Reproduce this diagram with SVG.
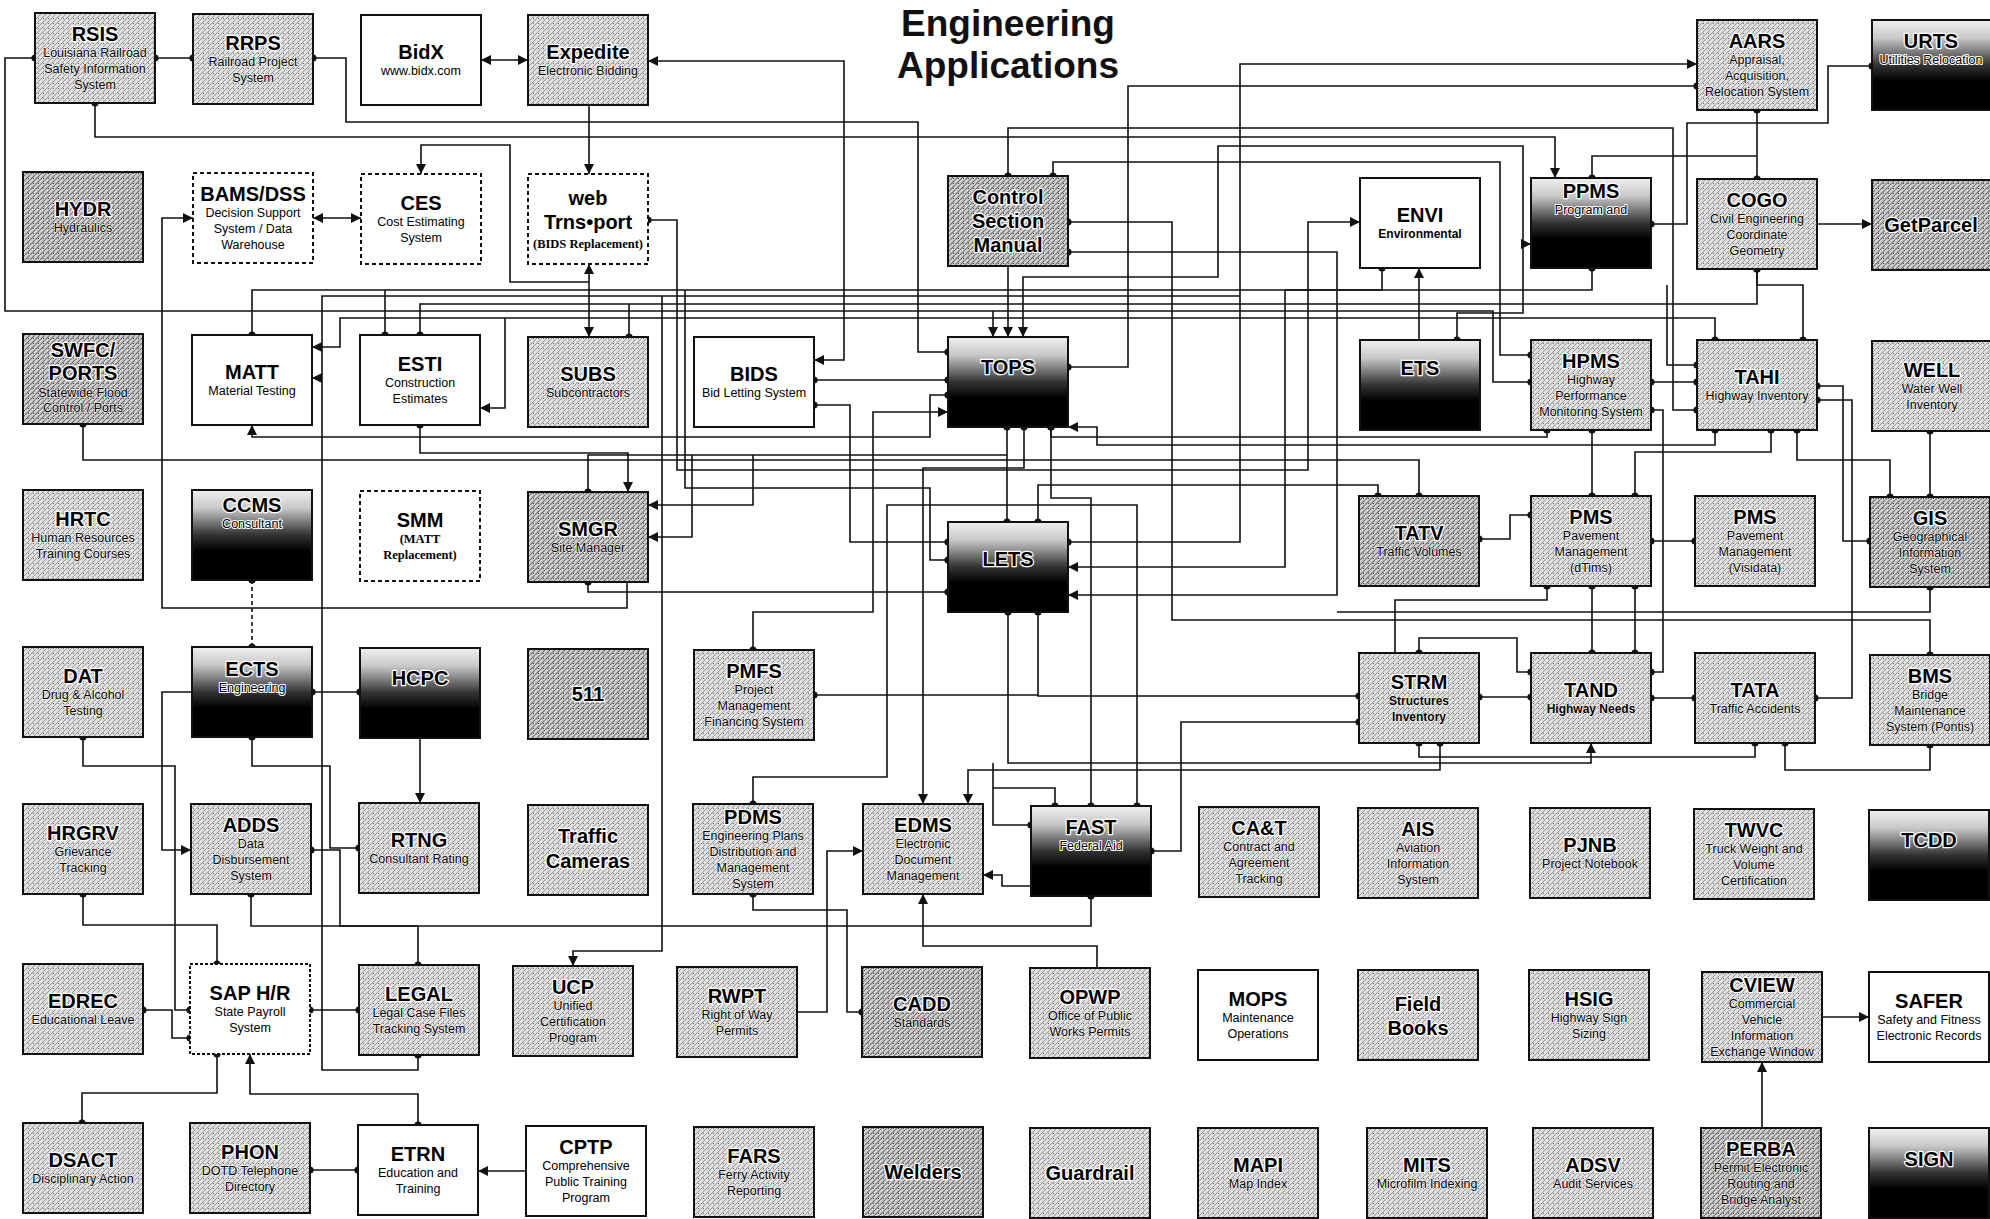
<svg xmlns="http://www.w3.org/2000/svg" width="1990" height="1219" viewBox="0 0 1990 1219">
<style>
.b{stroke:#111;stroke-width:2}
.st{fill:url(#st)}.st2{fill:url(#st2)}.gr{fill:url(#g)}.wh{fill:#fff}
.da{fill:#fff;stroke-dasharray:4 3}
.t{font-family:"Liberation Sans",Arial,sans-serif;font-weight:bold;font-size:20px;text-anchor:middle;fill:#000;stroke:#fff;stroke-width:2.5px;paint-order:stroke;stroke-linejoin:round}
.s{font-family:"Liberation Sans",Arial,sans-serif;font-size:12.5px;text-anchor:middle;fill:#000;stroke:#fff;stroke-width:0.8px;paint-order:stroke;stroke-linejoin:round}
.gr ~ .s{stroke-width:2px}
.sb{font-weight:bold;font-size:12px}
.sr{font-family:"Liberation Serif","Times New Roman",serif;font-weight:bold;font-size:12.5px}
.ttl{font-family:"Liberation Sans",Arial,sans-serif;font-weight:bold;font-size:37px;text-anchor:middle;fill:#111}
.c{fill:none;stroke:#111;stroke-width:1.6}
.dash{stroke-dasharray:4 3}
.ds{marker-start:url(#d)}.de{marker-end:url(#d)}.as{marker-start:url(#a)}.ae{marker-end:url(#a)}
</style>
<defs>
<pattern id="st" patternUnits="userSpaceOnUse" width="5" height="5"><rect width="5" height="5" fill="#e0e0e0"/><path d="M0,5 L5,0" stroke="#8c8c8c" stroke-width="0.9"/><rect x="3" y="3" width="1" height="1" fill="#666"/></pattern>
<pattern id="st2" patternUnits="userSpaceOnUse" width="5" height="5"><rect width="5" height="5" fill="#d0d0d0"/><path d="M0,5 L5,0" stroke="#6a6a6a" stroke-width="1.1"/><rect x="3" y="3" width="1" height="1" fill="#444"/></pattern>
<linearGradient id="g" x1="0" y1="0" x2="0" y2="1"><stop offset="0" stop-color="#f0f0f0"/><stop offset="0.2" stop-color="#c8c8c8"/><stop offset="0.5" stop-color="#333"/><stop offset="0.68" stop-color="#000"/><stop offset="1" stop-color="#000"/></linearGradient>
<marker id="d" viewBox="-5 -5 10 10" markerWidth="8" markerHeight="8" markerUnits="userSpaceOnUse" refX="0" refY="0" orient="auto"><circle r="4.5" fill="#111"/></marker>
<marker id="a" viewBox="0 0 10 10" refX="10" refY="5" markerWidth="12" markerHeight="10" markerUnits="userSpaceOnUse" orient="auto-start-reverse"><path d="M0,0 L10,5 L0,10 z" fill="#111"/></marker>
</defs>
<rect width="1990" height="1219" fill="#fff"/>
<text class="ttl" x="1008" y="36">Engineering</text>
<text class="ttl" x="1008" y="78">Applications</text>

<g id="connectors">
<path class="c ds de" d="M155,58 H193"/>
<path class="c ds de" d="M35,58 H5 V311 H1493 V382 H1531"/>
<path class="c ds de" d="M313,58 H346 V122 H918 V352 H948"/>
<path class="c ds ae" d="M95,103 V137 H1555 V178"/>
<path class="c as ae" d="M481,60 H528"/>
<path class="c as ae" d="M648,61 H844 V360 H814"/>
<path class="c ae" d="M589,105 V174"/>
<path class="c as ae" d="M589,264 V337"/>
<path class="c ae" d="M589,282 H510 V145 H421 V174"/>
<path class="c as ae" d="M313,218 H361"/>
<path class="c ae" d="M627,582 V608 H162 V218 H193"/>
<path class="c ds ae" d="M648,220 H677 V470 H1308 V222 H1360"/>
<path class="c ds de" d="M252,335 V290 H1592 V268"/>
<path class="c ds" d="M385,335 V290"/>
<path class="c ds de" d="M420,335 V304 H1757 V269"/>
<path class="c ds ae" d="M1715,340 V318 H340 V347 H312"/>
<path class="c ds" d="M418,1055 V1070 H322 V296 H1240"/>
<path class="c ae" d="M322,378 H312"/>
<path class="c ds ae" d="M1068,542 H1240 V64 H1697"/>
<path class="c ds de" d="M1068,367 H1128 V86 H1697"/>
<path class="c ds de" d="M1757,110 V179"/>
<path class="c ds de" d="M1872,66 H1828 V123 H1687 V224 H1651"/>
<path class="c ds" d="M1592,178 V156 H1757"/>
<path class="c ds de" d="M1008,176 V128 H1673 V410 H1697"/>
<path class="c ds de" d="M1053,176 V162 H1500 V355 H1531"/>
<path class="c ae" d="M1008,266 V337"/>
<path class="c ae" d="M993,311 V337"/>
<path class="c ds de" d="M1068,222 H1172 V620 H1930 V655"/>
<path class="c ds ae" d="M1068,252 H1337 V595 H1068"/>
<path class="c ds" d="M1930,587 V612 H1337"/>
<path class="c ds ae" d="M1382,268 V290 H1285 V567 H1068"/>
<path class="c ae" d="M1419,340 V268"/>
<path class="c ds ae" d="M1457,340 V313 H1523 V244 H1531"/>
<path class="c ae" d="M1523,244 V146 H1218 V277 H1023 V337"/>
<path class="c ds de" d="M1757,269 V285 H1803 V340"/>
<path class="c de" d="M1667,285 V365 H1697"/>
<path class="c ds de" d="M1651,382 H1697"/>
<path class="c ds de" d="M1817,386 H1843 V541 H1870"/>
<path class="c ds de" d="M1815,698 H1852 V400 H1817"/>
<path class="c ds de" d="M1930,431 V497"/>
<path class="c ds de" d="M1797,430 V460 H1890 V497"/>
<path class="c ds de" d="M1771,430 V452 H1635 V496"/>
<path class="c ds de" d="M1592,430 V496"/>
<path class="c ds ae" d="M1715,430 V445 H1097 V427 H1068"/>
<path class="c ds de" d="M1547,430 V437 H1051 V427"/>
<path class="c ds de" d="M1651,541 H1695"/>
<path class="c ds de" d="M1479,539 H1510 V515 H1531"/>
<path class="c ds de" d="M1592,586 V653"/>
<path class="c ds de" d="M1635,586 V653"/>
<path class="c ds" d="M1547,586 V600 H1395 V653"/>
<path class="c ds de" d="M1651,698 H1695"/>
<path class="c ds de" d="M1651,672 H1663 V410 H1651"/>
<path class="c ds de" d="M1479,697 H1531"/>
<path class="c ds de" d="M1419,653 V638 H1517 V672 H1531"/>
<path class="c ds de" d="M1038,612 V696 H1359"/>
<path class="c ds" d="M814,695 H1038"/>
<path class="c ds ae" d="M1008,612 V763 H1591 V743"/>
<path class="c ds" d="M1419,743 V757 H1591"/>
<path class="c ds" d="M1755,743 V757 H1591"/>
<path class="c ds de" d="M1930,745 V770 H1785 V743"/>
<path class="c ds de" d="M1151,851 H1181 V722 H1359"/>
<path class="c ds de" d="M1051,427 V498 H1091 V806"/>
<path class="c ds de" d="M1007,427 V522"/>
<path class="c ds de" d="M1038,522 V485 H1378 V496"/>
<path class="c ds de" d="M83,424 V460 H1419 V496"/>
<path class="c ds de" d="M753,804 V777 H887 V505 H1137 V806"/>
<path class="c ds ae" d="M1024,427 V468 H923 V804"/>
<path class="c ds ae" d="M1440,743 V770 H968 V804"/>
<path class="c de" d="M993,763 V825 H1031"/>
<path class="c ds" d="M1055,806 V788 H993"/>
<path class="c ds ae" d="M753,650 V612 H873 V412 H948"/>
<path class="c ds de" d="M814,380 H948"/>
<path class="c ds de" d="M814,405 H850 V542 H948"/>
<path class="c ds de" d="M588,582 V592 H948"/>
<path class="c ds" d="M588,492 V455 H1007"/>
<path class="c ds ae" d="M420,425 V453 H628 V492"/>
<path class="c as de" d="M252,425 V437 H930 V395 H948"/>
<path class="c ae" d="M692,455 V537 H648"/>
<path class="c ae" d="M753,455 V505 H648"/>
<path class="c as" d="M480,408 H505 V318"/>
<path class="c ae" d="M662,296 V951 H573 V966"/>
<path class="c ds" d="M629,337 V304"/>
<path class="c de" d="M685,290 V488 H930 V560 H948"/>
<path class="c ds de dash" d="M252,580 V647"/>
<path class="c ds de" d="M312,692 H360"/>
<path class="c ae" d="M192,692 H162 V850 H191"/>
<path class="c ae" d="M420,738 V803"/>
<path class="c ds de" d="M252,737 V766 H330 V848 H359"/>
<path class="c ds de" d="M83,737 V766 H175 V1010 H190"/>
<path class="c ds de" d="M143,1010 H172 V1038 H190"/>
<path class="c ds de" d="M83,894 V925 H217 V964"/>
<path class="c ds de" d="M251,894 V926 H418 V965"/>
<path class="c ds de" d="M310,1010 H359"/>
<path class="c ds de" d="M217,1054 V1093 H82 V1123"/>
<path class="c ds ae" d="M418,1125 V1094 H250 V1054"/>
<path class="c ds de" d="M310,1170 H358"/>
<path class="c ae" d="M526,1171 H478"/>
<path class="c ds de" d="M311,850 H340 V926 H1091 V896"/>
<path class="c ds de" d="M753,894 V910 H847 V1012 H862"/>
<path class="c ae" d="M797,1012 H827 V851 H863"/>
<path class="c ae" d="M1097,968 V946 H923 V894"/>
<path class="c ae" d="M1031,886 H1002 V875 H983"/>
<path class="c ae" d="M1817,224 H1872"/>
<path class="c ae" d="M1762,1128 V1062"/>
<path class="c ae" d="M1822,1017 H1869"/>
</g>

<g id="n-RSIS"><rect class="b st" x="35" y="13" width="120" height="90"/><text class="t" x="95" y="41">RSIS</text><text class="s" x="95" y="57">Louisiana Railroad</text><text class="s" x="95" y="73">Safety Information</text><text class="s" x="95" y="89">System</text></g>
<g id="n-RRPS"><rect class="b st" x="193" y="14" width="120" height="90"/><text class="t" x="253" y="50">RRPS</text><text class="s" x="253" y="66">Railroad Project</text><text class="s" x="253" y="82">System</text></g>
<g id="n-BidX"><rect class="b wh" x="361" y="15" width="120" height="90"/><text class="t" x="421" y="59">BidX</text><text class="s" x="421" y="75">www.bidx.com</text></g>
<g id="n-Expedite"><rect class="b st" x="528" y="15" width="120" height="90"/><text class="t" x="588" y="59">Expedite</text><text class="s" x="588" y="75">Electronic Bidding</text></g>
<g id="n-AARS"><rect class="b st" x="1697" y="20" width="120" height="90"/><text class="t" x="1757" y="48">AARS</text><text class="s" x="1757" y="64">Appraisal,</text><text class="s" x="1757" y="80">Acquisition,</text><text class="s" x="1757" y="96">Relocation System</text></g>
<g id="n-URTS"><rect class="b gr" x="1872" y="20" width="120" height="90"/><text class="t" x="1931" y="48">URTS</text><text class="s" x="1931" y="64">Utilities Relocation</text></g>

<g id="n-HYDR"><rect class="b st2" x="23" y="172" width="120" height="90"/><text class="t" x="83" y="216">HYDR</text><text class="s" x="83" y="232">Hydraulics</text></g>
<g id="n-BAMS"><rect class="b da" x="193" y="173" width="120" height="90"/><text class="t" x="253" y="201">BAMS/DSS</text><text class="s" x="253" y="217">Decision Support</text><text class="s" x="253" y="233">System / Data</text><text class="s" x="253" y="249">Warehouse</text></g>
<g id="n-CES"><rect class="b da" x="361" y="174" width="120" height="90"/><text class="t" x="421" y="210">CES</text><text class="s" x="421" y="226">Cost Estimating</text><text class="s" x="421" y="242">System</text></g>
<g id="n-webTrnsport"><rect class="b da" x="528" y="174" width="120" height="90"/><text class="t" x="588" y="205">web</text><text class="t" x="588" y="229">Trns•port</text><text class="s sr" x="588" y="248">(BIDS Replacement)</text></g>
<g id="n-Control"><rect class="b st2" x="948" y="176" width="120" height="90"/><text class="t" x="1008" y="204">Control</text><text class="t" x="1008" y="228">Section</text><text class="t" x="1008" y="252">Manual</text></g>
<g id="n-ENVI"><rect class="b wh" x="1360" y="178" width="120" height="90"/><text class="t" x="1420" y="222">ENVI</text><text class="s sb" x="1420" y="238">Environmental</text></g>
<g id="n-PPMS"><rect class="b gr" x="1531" y="178" width="120" height="90"/><text class="t" x="1591" y="198">PPMS</text><text class="s" x="1591" y="214">Program and</text></g>
<g id="n-COGO"><rect class="b st" x="1697" y="179" width="120" height="90"/><text class="t" x="1757" y="207">COGO</text><text class="s" x="1757" y="223">Civil Engineering</text><text class="s" x="1757" y="239">Coordinate</text><text class="s" x="1757" y="255">Geometry</text></g>
<g id="n-GetParcel"><rect class="b st2" x="1872" y="180" width="120" height="90"/><text class="t" x="1931" y="232">GetParcel</text></g>

<g id="n-SWFC"><rect class="b st2" x="23" y="334" width="120" height="90"/><text class="t" x="83" y="357">SWFC/</text><text class="t" x="83" y="380">PORTS</text><text class="s" x="83" y="397">Statewide Flood</text><text class="s" x="83" y="412">Control / Ports</text></g>
<g id="n-MATT"><rect class="b wh" x="192" y="335" width="120" height="90"/><text class="t" x="252" y="379">MATT</text><text class="s" x="252" y="395">Material Testing</text></g>
<g id="n-ESTI"><rect class="b wh" x="360" y="335" width="120" height="90"/><text class="t" x="420" y="371">ESTI</text><text class="s" x="420" y="387">Construction</text><text class="s" x="420" y="403">Estimates</text></g>
<g id="n-SUBS"><rect class="b st" x="528" y="337" width="120" height="90"/><text class="t" x="588" y="381">SUBS</text><text class="s" x="588" y="397">Subcontractors</text></g>
<g id="n-BIDS"><rect class="b wh" x="694" y="337" width="120" height="90"/><text class="t" x="754" y="381">BIDS</text><text class="s" x="754" y="397">Bid Letting System</text></g>
<g id="n-TOPS"><rect class="b gr" x="948" y="337" width="120" height="90"/><text class="t" x="1008" y="374">TOPS</text></g>
<g id="n-ETS"><rect class="b gr" x="1360" y="340" width="120" height="90"/><text class="t" x="1420" y="375">ETS</text></g>
<g id="n-HPMS"><rect class="b st" x="1531" y="340" width="120" height="90"/><text class="t" x="1591" y="368">HPMS</text><text class="s" x="1591" y="384">Highway</text><text class="s" x="1591" y="400">Performance</text><text class="s" x="1591" y="416">Monitoring System</text></g>
<g id="n-TAHI"><rect class="b st" x="1697" y="340" width="120" height="90"/><text class="t" x="1757" y="384">TAHI</text><text class="s" x="1757" y="400">Highway Inventory</text></g>
<g id="n-WELL"><rect class="b st" x="1872" y="341" width="120" height="90"/><text class="t" x="1932" y="377">WELL</text><text class="s" x="1932" y="393">Water Well</text><text class="s" x="1932" y="409">Inventory</text></g>

<g id="n-HRTC"><rect class="b st" x="23" y="490" width="120" height="90"/><text class="t" x="83" y="526">HRTC</text><text class="s" x="83" y="542">Human Resources</text><text class="s" x="83" y="558">Training Courses</text></g>
<g id="n-CCMS"><rect class="b gr" x="192" y="490" width="120" height="90"/><text class="t" x="252" y="512">CCMS</text><text class="s" x="252" y="528">Consultant</text></g>
<g id="n-SMM"><rect class="b da" x="360" y="491" width="120" height="90"/><text class="t" x="420" y="527">SMM</text><text class="s sr" x="420" y="543">(MATT</text><text class="s sr" x="420" y="559">Replacement)</text></g>
<g id="n-SMGR"><rect class="b st2" x="528" y="492" width="120" height="90"/><text class="t" x="588" y="536">SMGR</text><text class="s" x="588" y="552">Site Manager</text></g>
<g id="n-LETS"><rect class="b gr" x="948" y="522" width="120" height="90"/><text class="t" x="1008" y="566">LETS</text></g>
<g id="n-TATV"><rect class="b st2" x="1359" y="496" width="120" height="90"/><text class="t" x="1419" y="540">TATV</text><text class="s" x="1419" y="556">Traffic Volumes</text></g>
<g id="n-PMS-dTims"><rect class="b st" x="1531" y="496" width="120" height="90"/><text class="t" x="1591" y="524">PMS</text><text class="s" x="1591" y="540">Pavement</text><text class="s" x="1591" y="556">Management</text><text class="s" x="1591" y="572">(dTims)</text></g>
<g id="n-PMS-Visidata"><rect class="b st" x="1695" y="496" width="120" height="90"/><text class="t" x="1755" y="524">PMS</text><text class="s" x="1755" y="540">Pavement</text><text class="s" x="1755" y="556">Management</text><text class="s" x="1755" y="572">(Visidata)</text></g>
<g id="n-GIS"><rect class="b st2" x="1870" y="497" width="120" height="90"/><text class="t" x="1930" y="525">GIS</text><text class="s" x="1930" y="541">Geographical</text><text class="s" x="1930" y="557">Information</text><text class="s" x="1930" y="573">System</text></g>

<g id="n-DAT"><rect class="b st" x="23" y="647" width="120" height="90"/><text class="t" x="83" y="683">DAT</text><text class="s" x="83" y="699">Drug &amp; Alcohol</text><text class="s" x="83" y="715">Testing</text></g>
<g id="n-ECTS"><rect class="b gr" x="192" y="647" width="120" height="90"/><text class="t" x="252" y="676">ECTS</text><text class="s" x="252" y="692">Engineering</text></g>
<g id="n-HCPC"><rect class="b gr" x="360" y="648" width="120" height="90"/><text class="t" x="420" y="685">HCPC</text></g>
<g id="n-511"><rect class="b st2" x="528" y="649" width="120" height="90"/><text class="t" x="588" y="701">511</text></g>
<g id="n-PMFS"><rect class="b st" x="694" y="650" width="120" height="90"/><text class="t" x="754" y="678">PMFS</text><text class="s" x="754" y="694">Project</text><text class="s" x="754" y="710">Management</text><text class="s" x="754" y="726">Financing System</text></g>
<g id="n-STRM"><rect class="b st" x="1359" y="653" width="120" height="90"/><text class="t" x="1419" y="689">STRM</text><text class="s sb" x="1419" y="705">Structures</text><text class="s sb" x="1419" y="721">Inventory</text></g>
<g id="n-TAND"><rect class="b st" x="1531" y="653" width="120" height="90"/><text class="t" x="1591" y="697">TAND</text><text class="s sb" x="1591" y="713">Highway Needs</text></g>
<g id="n-TATA"><rect class="b st" x="1695" y="653" width="120" height="90"/><text class="t" x="1755" y="697">TATA</text><text class="s" x="1755" y="713">Traffic Accidents</text></g>
<g id="n-BMS"><rect class="b st" x="1870" y="655" width="120" height="90"/><text class="t" x="1930" y="683">BMS</text><text class="s" x="1930" y="699">Bridge</text><text class="s" x="1930" y="715">Maintenance</text><text class="s" x="1930" y="731">System (Pontis)</text></g>

<g id="n-HRGRV"><rect class="b st" x="23" y="804" width="120" height="90"/><text class="t" x="83" y="840">HRGRV</text><text class="s" x="83" y="856">Grievance</text><text class="s" x="83" y="872">Tracking</text></g>
<g id="n-ADDS"><rect class="b st" x="191" y="804" width="120" height="90"/><text class="t" x="251" y="832">ADDS</text><text class="s" x="251" y="848">Data</text><text class="s" x="251" y="864">Disbursement</text><text class="s" x="251" y="880">System</text></g>
<g id="n-RTNG"><rect class="b st" x="359" y="803" width="120" height="90"/><text class="t" x="419" y="847">RTNG</text><text class="s" x="419" y="863">Consultant Rating</text></g>
<g id="n-TrafficCameras"><rect class="b st" x="528" y="805" width="120" height="90"/><text class="t" x="588" y="843">Traffic</text><text class="t" x="588" y="868">Cameras</text></g>
<g id="n-PDMS"><rect class="b st" x="693" y="804" width="120" height="90"/><text class="t" x="753" y="824">PDMS</text><text class="s" x="753" y="840">Engineering Plans</text><text class="s" x="753" y="856">Distribution and</text><text class="s" x="753" y="872">Management</text><text class="s" x="753" y="888">System</text></g>
<g id="n-EDMS"><rect class="b st" x="863" y="804" width="120" height="90"/><text class="t" x="923" y="832">EDMS</text><text class="s" x="923" y="848">Electronic</text><text class="s" x="923" y="864">Document</text><text class="s" x="923" y="880">Management</text></g>
<g id="n-FAST"><rect class="b gr" x="1031" y="806" width="120" height="90"/><text class="t" x="1091" y="834">FAST</text><text class="s" x="1091" y="850">Federal Aid</text></g>
<g id="n-CAT"><rect class="b st" x="1199" y="807" width="120" height="90"/><text class="t" x="1259" y="835">CA&amp;T</text><text class="s" x="1259" y="851">Contract and</text><text class="s" x="1259" y="867">Agreement</text><text class="s" x="1259" y="883">Tracking</text></g>
<g id="n-AIS"><rect class="b st" x="1358" y="808" width="120" height="90"/><text class="t" x="1418" y="836">AIS</text><text class="s" x="1418" y="852">Aviation</text><text class="s" x="1418" y="868">Information</text><text class="s" x="1418" y="884">System</text></g>
<g id="n-PJNB"><rect class="b st" x="1530" y="808" width="120" height="90"/><text class="t" x="1590" y="852">PJNB</text><text class="s" x="1590" y="868">Project Notebook</text></g>
<g id="n-TWVC"><rect class="b st" x="1694" y="809" width="120" height="90"/><text class="t" x="1754" y="837">TWVC</text><text class="s" x="1754" y="853">Truck Weight and</text><text class="s" x="1754" y="869">Volume</text><text class="s" x="1754" y="885">Certification</text></g>
<g id="n-TCDD"><rect class="b gr" x="1869" y="810" width="120" height="90"/><text class="t" x="1929" y="847">TCDD</text></g>

<g id="n-EDREC"><rect class="b st" x="23" y="964" width="120" height="90"/><text class="t" x="83" y="1008">EDREC</text><text class="s" x="83" y="1024">Educational Leave</text></g>
<g id="n-SAPHR"><rect class="b wh" style="stroke-dasharray:3 2" x="190" y="964" width="120" height="90"/><text class="t" x="250" y="1000">SAP H/R</text><text class="s" x="250" y="1016">State Payroll</text><text class="s" x="250" y="1032">System</text></g>
<g id="n-LEGAL"><rect class="b st" x="359" y="965" width="120" height="90"/><text class="t" x="419" y="1001">LEGAL</text><text class="s" x="419" y="1017">Legal Case Files</text><text class="s" x="419" y="1033">Tracking System</text></g>
<g id="n-UCP"><rect class="b st" x="513" y="966" width="120" height="90"/><text class="t" x="573" y="994">UCP</text><text class="s" x="573" y="1010">Unified</text><text class="s" x="573" y="1026">Certification</text><text class="s" x="573" y="1042">Program</text></g>
<g id="n-RWPT"><rect class="b st" x="677" y="967" width="120" height="90"/><text class="t" x="737" y="1003">RWPT</text><text class="s" x="737" y="1019">Right of Way</text><text class="s" x="737" y="1035">Permits</text></g>
<g id="n-CADD"><rect class="b st2" x="862" y="967" width="120" height="90"/><text class="t" x="922" y="1011">CADD</text><text class="s" x="922" y="1027">Standards</text></g>
<g id="n-OPWP"><rect class="b st" x="1030" y="968" width="120" height="90"/><text class="t" x="1090" y="1004">OPWP</text><text class="s" x="1090" y="1020">Office of Public</text><text class="s" x="1090" y="1036">Works Permits</text></g>
<g id="n-MOPS"><rect class="b wh" x="1198" y="970" width="120" height="90"/><text class="t" x="1258" y="1006">MOPS</text><text class="s" x="1258" y="1022">Maintenance</text><text class="s" x="1258" y="1038">Operations</text></g>
<g id="n-FieldBooks"><rect class="b st" x="1358" y="970" width="120" height="90"/><text class="t" x="1418" y="1011">Field</text><text class="t" x="1418" y="1035">Books</text></g>
<g id="n-HSIG"><rect class="b st" x="1529" y="970" width="120" height="90"/><text class="t" x="1589" y="1006">HSIG</text><text class="s" x="1589" y="1022">Highway Sign</text><text class="s" x="1589" y="1038">Sizing</text></g>
<g id="n-CVIEW"><rect class="b st" x="1702" y="972" width="120" height="90"/><text class="t" x="1762" y="992">CVIEW</text><text class="s" x="1762" y="1008">Commercial</text><text class="s" x="1762" y="1024">Vehicle</text><text class="s" x="1762" y="1040">Information</text><text class="s" x="1762" y="1056">Exchange Window</text></g>
<g id="n-SAFER"><rect class="b wh" x="1869" y="972" width="120" height="90"/><text class="t" x="1929" y="1008">SAFER</text><text class="s" x="1929" y="1024">Safety and Fitness</text><text class="s" x="1929" y="1040">Electronic Records</text></g>

<g id="n-DSACT"><rect class="b st" x="23" y="1123" width="120" height="90"/><text class="t" x="83" y="1167">DSACT</text><text class="s" x="83" y="1183">Disciplinary Action</text></g>
<g id="n-PHON"><rect class="b st" x="190" y="1123" width="120" height="90"/><text class="t" x="250" y="1159">PHON</text><text class="s" x="250" y="1175">DOTD Telephone</text><text class="s" x="250" y="1191">Directory</text></g>
<g id="n-ETRN"><rect class="b wh" x="358" y="1125" width="120" height="90"/><text class="t" x="418" y="1161">ETRN</text><text class="s" x="418" y="1177">Education and</text><text class="s" x="418" y="1193">Training</text></g>
<g id="n-CPTP"><rect class="b wh" x="526" y="1126" width="120" height="90"/><text class="t" x="586" y="1154">CPTP</text><text class="s" x="586" y="1170">Comprehensive</text><text class="s" x="586" y="1186">Public Training</text><text class="s" x="586" y="1202">Program</text></g>
<g id="n-FARS"><rect class="b st" x="694" y="1127" width="120" height="90"/><text class="t" x="754" y="1163">FARS</text><text class="s" x="754" y="1179">Ferry Activity</text><text class="s" x="754" y="1195">Reporting</text></g>
<g id="n-Welders"><rect class="b st2" x="863" y="1127" width="120" height="90"/><text class="t" x="923" y="1179">Welders</text></g>
<g id="n-Guardrail"><rect class="b st" x="1030" y="1128" width="120" height="90"/><text class="t" x="1090" y="1180">Guardrail</text></g>
<g id="n-MAPI"><rect class="b st" x="1198" y="1128" width="120" height="90"/><text class="t" x="1258" y="1172">MAPI</text><text class="s" x="1258" y="1188">Map Index</text></g>
<g id="n-MITS"><rect class="b st" x="1367" y="1128" width="120" height="90"/><text class="t" x="1427" y="1172">MITS</text><text class="s" x="1427" y="1188">Microfilm Indexing</text></g>
<g id="n-ADSV"><rect class="b st" x="1533" y="1128" width="120" height="90"/><text class="t" x="1593" y="1172">ADSV</text><text class="s" x="1593" y="1188">Audit Services</text></g>
<g id="n-PERBA"><rect class="b st2" x="1701" y="1128" width="120" height="90"/><text class="t" x="1761" y="1156">PERBA</text><text class="s" x="1761" y="1172">Permit Electronic</text><text class="s" x="1761" y="1188">Routing and</text><text class="s" x="1761" y="1204">Bridge Analyst</text></g>
<g id="n-SIGN"><rect class="b gr" x="1869" y="1128" width="120" height="90"/><text class="t" x="1929" y="1166">SIGN</text></g>
</svg>
